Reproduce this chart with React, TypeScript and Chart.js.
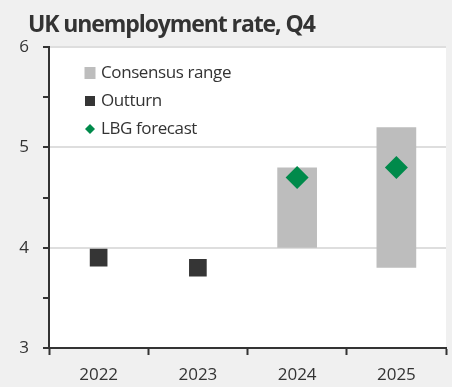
import React, { useEffect, useRef } from 'react';
import { Chart, registerables } from 'chart.js';

Chart.register(...registerables);

const titleText = 'UK unemployment rate, Q4';
const categories = ['2022', '2023', '2024', '2025'];
const consensusLow = [null, null, 4.0, 3.8];
const consensusHigh = [null, null, 4.8, 5.2];
const outturn = [3.9, 3.8, null, null];
const lbgForecast = [null, null, 4.7, 4.8];
const yMin = 3;
const yMax = 6;
const yStep = 0.5;

const FONT = '"Open Sans", "DejaVu Sans", sans-serif';
const TEXT = '#333333';
const GREY = '#bdbdbd';
const DARK = '#353535';
const GREEN = '#008a4b';

const bgPlugin = {
  id: 'bgPlugin',
  beforeDraw(chart: any) {
    const { ctx, width, height, chartArea } = chart;
    ctx.save();
    ctx.fillStyle = '#f0f0f0';
    ctx.fillRect(0, 0, width, height);
    ctx.fillStyle = '#ffffff';
    ctx.fillRect(chartArea.left, chartArea.top, chartArea.right - chartArea.left, chartArea.bottom - chartArea.top);
    ctx.restore();
  },
};

const titlePlugin = {
  id: 'titlePlugin',
  afterDraw(chart: any) {
    const { ctx } = chart;
    ctx.save();
    ctx.fillStyle = TEXT;
    ctx.font = `bold 23px ${FONT}`;
    (ctx as any).letterSpacing = '-1.1px';
    ctx.textBaseline = 'alphabetic';
    ctx.textAlign = 'left';
    ctx.fillText(titleText, 28, 32);
    ctx.restore();
  },
};

const legendPlugin = {
  id: 'legendPlugin',
  afterDraw(chart: any) {
    const { ctx, chartArea } = chart;
    const datasets = chart.data.datasets;
    const order = [0, 1, 2];
    ctx.save();
    ctx.font = `17px ${FONT}`;
    (ctx as any).letterSpacing = '-0.4px';
    ctx.textBaseline = 'middle';
    ctx.textAlign = 'left';
    order.forEach((di, i) => {
      const ds = datasets[di];
      const cy = chartArea.top + 26 + i * 28;
      const cx = chartArea.left + 41;
      const kind = ds.legendMarker;
      if (kind === 'bar') {
        ctx.fillStyle = ds.backgroundColor;
        ctx.fillRect(cx - 5.5, cy - 6, 11, 12);
      } else if (kind === 'rect') {
        ctx.fillStyle = ds.pointBackgroundColor;
        ctx.fillRect(cx - 5, cy - 5, 10, 10);
      } else {
        ctx.fillStyle = ds.pointBackgroundColor;
        ctx.beginPath();
        ctx.moveTo(cx, cy - 5);
        ctx.lineTo(cx + 5, cy);
        ctx.lineTo(cx, cy + 5);
        ctx.lineTo(cx - 5, cy);
        ctx.closePath();
        ctx.fill();
      }
      ctx.fillStyle = TEXT;
      ctx.fillText(ds.label, cx + 11, cy);
    });
    ctx.restore();
  },
};

export default function App() {
  const ref = useRef<HTMLCanvasElement>(null);

  useEffect(() => {
    document.body.style.margin = '0';
    const canvas = ref.current!;
    const chart = new Chart(canvas, {
      data: {
        labels: categories,
        datasets: [
          {
            type: 'bar',
            label: 'Consensus range',
            legendMarker: 'bar',
            data: consensusLow.map((lo, i) => (lo === null ? null : [lo, consensusHigh[i] as number])) as any,
            backgroundColor: GREY,
            borderWidth: 0,
            categoryPercentage: 1,
            barPercentage: 0.4,
            grouped: false,
            order: 2,
          } as any,
          {
            type: 'line',
            label: 'Outturn',
            legendMarker: 'rect',
            data: outturn,
            showLine: false,
            pointStyle: 'rect',
            pointRadius: 12.5,
            pointBackgroundColor: DARK,
            pointBorderWidth: 0,
            pointBorderColor: DARK,
            order: 1,
          } as any,
          {
            type: 'line',
            label: 'LBG forecast',
            legendMarker: 'rectRot',
            data: lbgForecast,
            showLine: false,
            pointStyle: 'rectRot',
            pointRadius: 11.5,
            pointBackgroundColor: GREEN,
            pointBorderWidth: 0,
            pointBorderColor: GREEN,
            order: 0,
          } as any,
        ],
      },
      options: {
        animation: false,
        responsive: false,
        maintainAspectRatio: false,
        layout: { autoPadding: false, padding: { top: 47, right: 6, left: 0, bottom: 0 } },
        plugins: {
          legend: { display: false },
          title: { display: false },
          tooltip: { enabled: false },
        },
        scales: {
          x: {
            type: 'category',
            offset: true,
            grid: {
              offset: true,
              color: 'rgba(0,0,0,0)',
              tickColor: TEXT,
              tickWidth: 2,
              tickLength: 7,
              drawOnChartArea: false,
            },
            border: { color: TEXT, width: 2 },
            ticks: {
              color: TEXT,
              font: { family: FONT, size: 17 },
              padding: 10,
              maxRotation: 0,
            },
            afterFit(scale: any) {
              scale.height = 39;
              scale.paddingLeft = 0;
              scale.paddingRight = 0;
            },
          },
          y: {
            min: yMin,
            max: yMax,
            ticks: {
              stepSize: yStep,
              color: TEXT,
              font: { family: FONT, size: 17 },
              padding: 14,
              callback: (v: any) => (Number.isInteger(v) ? String(v) : ''),
            },
            grid: {
              color: (c: any) =>
                c.tick && Number.isInteger(c.tick.value) && c.tick.value !== yMin ? '#dedede' : 'rgba(0,0,0,0)',
              lineWidth: 2,
              tickColor: TEXT,
              tickWidth: 2,
              tickLength: 6,
            },
            border: { color: TEXT, width: 2 },
            afterFit(scale: any) {
              scale.width = 49;
            },
          },
        },
      } as any,
      plugins: [bgPlugin, titlePlugin, legendPlugin],
    });
    return () => chart.destroy();
  }, []);

  return (
    <div style={{ width: 452, height: 387, background: '#f0f0f0' }}>
      <canvas ref={ref} width={452} height={387} style={{ display: 'block', width: 452, height: 387 }} />
    </div>
  );
}
